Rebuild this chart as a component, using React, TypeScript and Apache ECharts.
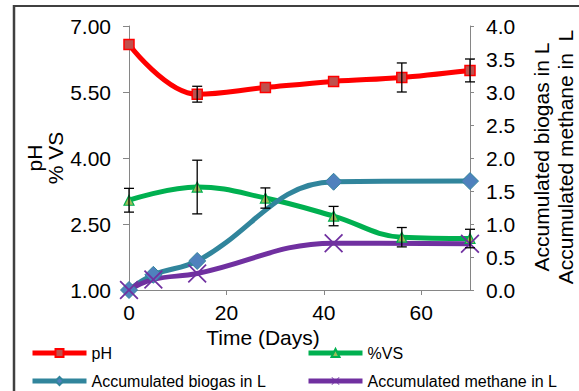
import React, { useEffect, useRef } from "react";
import * as echarts from "echarts";

const FONT = "'Liberation Sans', Arial, sans-serif";

const phDays = [0, 14, 28, 42, 56, 70];
const phValues = [6.58, 5.45, 5.6, 5.74, 5.83, 5.99];
const phErrors = [0, 0.18, 0, 0, 0.33, 0.26];
const vsValues = [3.04, 3.34, 3.09, 2.68, 2.2, 2.17];
const vsErrors = [0.27, 0.61, 0.23, 0.22, 0.22, 0.21];
const gasDays = [0, 5, 14, 42, 70];
const biogasValues = [0, 0.23, 0.44, 1.64, 1.65];
const methaneValues = [0, 0.16, 0.25, 0.71, 0.7];

const leftTicks = [1, 2.5, 4, 5.5, 7];
const xTicks = [0, 20, 40, 60];

const seriesNames = ["pH", "%VS", "Accumulated biogas in L", "Accumulated methane in L"];

const X_SYMBOL =
  "path://M1.3,0L10,8.7L18.7,0L20,1.3L11.3,10L20,18.7L18.7,20L10,11.3L1.3,20L0,18.7L8.7,10L0,1.3Z";

function pairs(xs: number[], ys: number[]) {
  return xs.map((x, i) => [x, ys[i]]);
}

function errData(xs: number[], ys: number[], es: number[]) {
  return xs
    .map((x, i) => [x, ys[i] - es[i], ys[i] + es[i]])
    .filter((d, i) => es[i] > 0);
}

export default function App() {
  const ref = useRef<HTMLDivElement>(null);

  useEffect(() => {
    if (!ref.current) return;
    const chart = echarts.init(ref.current, undefined, { renderer: "svg" });

    const errorRender = (params: any, api: any) => {
      const x = api.value(0);
      const lo = api.coord([x, api.value(1)]);
      const hi = api.coord([x, api.value(2)]);
      const w = 5;
      const style = { stroke: "#000", lineWidth: 1.3 };
      return {
        type: "group",
        children: [
          { type: "line", shape: { x1: lo[0], y1: lo[1], x2: hi[0], y2: hi[1] }, style },
          { type: "line", shape: { x1: lo[0] - w, y1: lo[1], x2: lo[0] + w, y2: lo[1] }, style },
          { type: "line", shape: { x1: hi[0] - w, y1: hi[1], x2: hi[0] + w, y2: hi[1] }, style },
        ],
      };
    };

    const axisLine = { show: true, lineStyle: { color: "#868686", width: 1 } };
    const labelStyle = { color: "#000", fontSize: 21, fontFamily: FONT };

    const legendBase = {
      orient: "horizontal",
      itemWidth: 54,
      itemHeight: 10,
      itemGap: 0,
      padding: 0,
      lineStyle: { width: 5 },
      textStyle: { color: "#000", fontSize: 16, fontFamily: FONT, lineHeight: 16 },
    };

    const option: any = {
      animation: false,
      backgroundColor: "#fff",
      grid: { left: 129, right: 109, top: 26, bottom: 101, containLabel: false, outerBoundsMode: "none" },
      legend: [
        { ...legendBase, left: 30, top: 345, data: [seriesNames[0]] },
        { ...legendBase, left: 306, top: 345, data: [seriesNames[1]] },
        { ...legendBase, left: 30, top: 373, data: [seriesNames[2]] },
        { ...legendBase, left: 306, top: 373, data: [seriesNames[3]] },
      ],
      xAxis: {
        type: "value",
        min: 0,
        max: 70,
        axisLine,
        splitLine: { show: false },
        axisTick: { show: true, length: 5, inside: false, customValues: xTicks, lineStyle: { color: "#868686" } },
        axisLabel: { ...labelStyle, margin: 12, customValues: xTicks },
      },
      yAxis: [
        {
          type: "value",
          min: 1,
          max: 7,
          position: "left",
          axisLine,
          splitLine: { show: false },
          axisTick: { show: true, length: 6, customValues: leftTicks, lineStyle: { color: "#868686" } },
          axisLabel: {
            ...labelStyle,
            margin: 18,
            customValues: leftTicks,
            formatter: (v: number) => v.toFixed(2),
          },
        },
        {
          type: "value",
          min: 0,
          max: 4,
          interval: 0.5,
          position: "right",
          axisLine,
          splitLine: { show: false },
          axisTick: { show: true, length: 4, lineStyle: { color: "#868686" } },
          axisLabel: { ...labelStyle, margin: 16, formatter: (v: number) => v.toFixed(1) },
        },
      ],
      graphic: [
        { type: "line", shape: { x1: 13, y1: 6, x2: 579, y2: 6 }, style: { stroke: "#404040", lineWidth: 2 } },
        { type: "line", shape: { x1: 14, y1: 5, x2: 14, y2: 391 }, style: { stroke: "#404040", lineWidth: 2.5 } },
        {
          type: "text",
          x: 45,
          y: 158,
          rotation: Math.PI / 2,
          style: {
            text: "pH\n% VS",
            fill: "#000",
            font: `21px ${FONT}`,
            align: "center",
            verticalAlign: "middle",
            lineHeight: 21,
          },
        },
        {
          type: "text",
          x: 553,
          y: 157,
          rotation: Math.PI / 2,
          style: {
            text: "Accumulated biogas in L\nAccumulated methane in  L",
            fill: "#000",
            font: `21px ${FONT}`,
            align: "center",
            verticalAlign: "middle",
            lineHeight: 24,
          },
        },
        {
          type: "text",
          x: 263,
          y: 337,
          style: {
            text: "Time (Days)",
            fill: "#000",
            font: `21px ${FONT}`,
            align: "center",
            verticalAlign: "middle",
          },
        },
      ],
      series: [
        {
          name: seriesNames[0],
          type: "line",
          yAxisIndex: 0,
          smooth: 0.4,
          data: pairs(phDays, phValues),
          symbol: "rect",
          symbolSize: 10,
          lineStyle: { color: "#FF0000", width: 5 },
          itemStyle: { color: "#C0504D", borderColor: "#FF0000", borderWidth: 1.5 },
        },
        {
          name: seriesNames[1],
          type: "line",
          yAxisIndex: 0,
          smooth: 0.4,
          data: pairs(phDays, vsValues),
          symbol: "triangle",
          symbolSize: 10,
          lineStyle: { color: "#00B050", width: 5 },
          itemStyle: { color: "#9BBB59", borderColor: "#00B050", borderWidth: 1.2 },
        },
        {
          name: seriesNames[2],
          type: "line",
          yAxisIndex: 1,
          smooth: 0.4,
          data: pairs(gasDays, biogasValues),
          symbol: "diamond",
          symbolSize: 17,
          lineStyle: { color: "#31859C", width: 5 },
          itemStyle: { color: "#4F81BD", borderColor: "#31859C", borderWidth: 1 },
        },
        {
          name: seriesNames[3],
          type: "line",
          yAxisIndex: 1,
          smooth: 0.4,
          data: pairs(gasDays, methaneValues),
          symbol: X_SYMBOL,
          symbolSize: 19,
          lineStyle: { color: "#7030A0", width: 5 },
          itemStyle: { color: "#7030A0" },
        },
        {
          name: "pH error",
          type: "custom",
          yAxisIndex: 0,
          renderItem: errorRender,
          data: errData(phDays, phValues, phErrors),
          encode: { x: 0, y: [1, 2] },
          z: 10,
          silent: true,
        },
        {
          name: "VS error",
          type: "custom",
          yAxisIndex: 0,
          renderItem: errorRender,
          data: errData(phDays, vsValues, vsErrors),
          encode: { x: 0, y: [1, 2] },
          z: 10,
          silent: true,
        },
      ],
    };

    chart.setOption(option);
    return () => chart.dispose();
  }, []);

  return (
    <div
      ref={ref}
      style={{ position: "fixed", left: 0, top: 0, width: 579, height: 391, background: "#fff" }}
    />
  );
}
